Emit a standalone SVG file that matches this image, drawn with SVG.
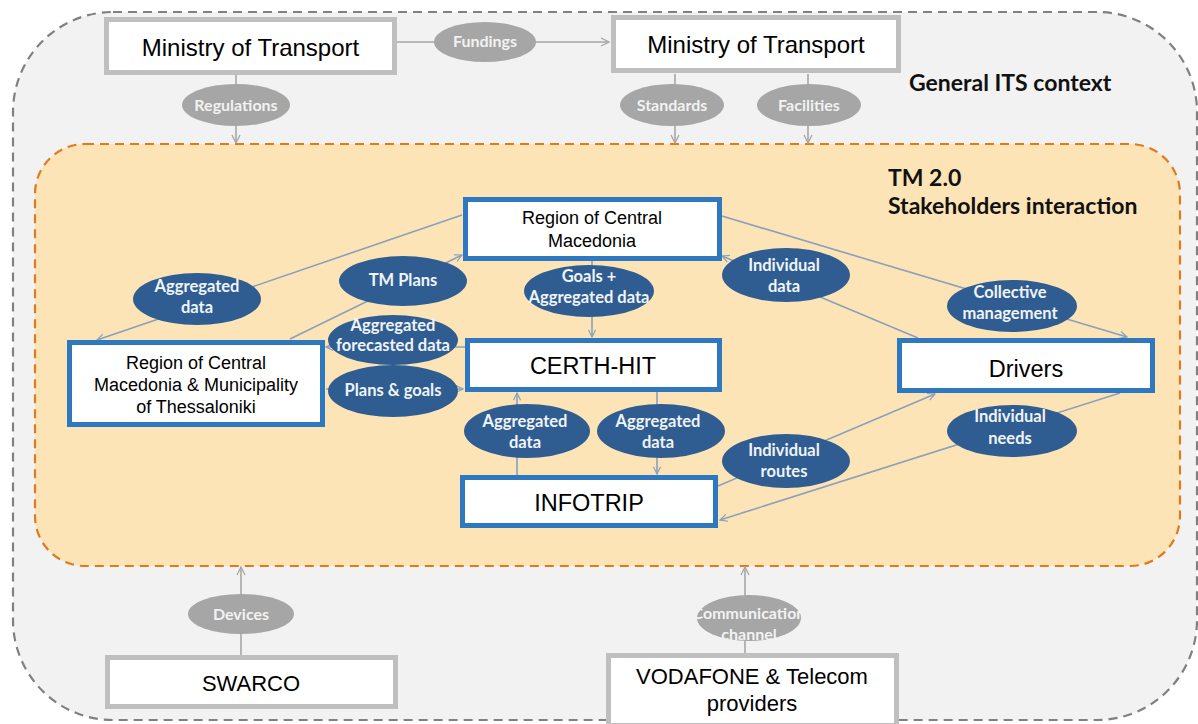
<svg xmlns="http://www.w3.org/2000/svg" width="1198" height="724" viewBox="0 0 1198 724">
<defs>
<marker id="aB" viewBox="0 0 10 10" refX="9" refY="5" markerWidth="9" markerHeight="9" markerUnits="userSpaceOnUse" orient="auto">
<path d="M1,1 L9,5 L1,9" fill="none" stroke="#8aa0bb" stroke-width="1.3"/>
</marker>
<marker id="aG" viewBox="0 0 10 10" refX="9" refY="5" markerWidth="10" markerHeight="10" markerUnits="userSpaceOnUse" orient="auto">
<path d="M1,1 L9,5 L1,9" fill="none" stroke="#a6a6a6" stroke-width="1.3"/>
</marker>
</defs>
<style>
.bx{fill:#ffffff;stroke:#2e78c0;stroke-width:5}
.gb{fill:#ffffff;stroke:#bfbfbf;stroke-width:5}
.be{fill:#2f5d91}
.ge{fill:#a6a6a6}
.bl{font-family:"Liberation Sans",Arial,sans-serif;fill:#000;text-anchor:middle}
.el{font-family:Lato,"Open Sans",sans-serif;font-weight:bold;font-size:16.5px;fill:#f0f4f8;text-anchor:middle}
.gl{font-family:Lato,"Open Sans",sans-serif;font-weight:bold;font-size:16px;fill:#f2f2f2;text-anchor:middle}
.hd{font-family:Lato,"Open Sans",sans-serif;font-weight:bold;font-size:23px;fill:#111}
.cb{stroke:#8aa0bb;stroke-width:1.6;fill:none}
.cg{stroke:#a6a6a6;stroke-width:1.6;fill:none}
</style>
<rect width="1198" height="724" fill="#ffffff"/>
<g id="context">
<rect x="13" y="12" width="1184" height="708" rx="100" ry="100" fill="#f2f2f2" stroke="#808080" stroke-width="2.2" stroke-dasharray="9,6"/>
<text class="hd" x="909" y="91">General ITS context</text>
</g>
<g id="tm20">
<rect x="35" y="144" width="1145" height="422" rx="50" ry="50" fill="#fde4b6" stroke="#e07a1f" stroke-width="2.2" stroke-dasharray="9,6"/>
<text class="hd" x="888" y="186">TM 2.0</text>
<text class="hd" x="888" y="214">Stakeholders interaction</text>
</g>
<g id="connectors">
<line class="cg" x1="397" y1="42" x2="609" y2="42" marker-end="url(#aG)"/>
<line class="cg" x1="236" y1="75" x2="236" y2="143" marker-end="url(#aG)"/>
<line class="cg" x1="675" y1="74" x2="675" y2="143" marker-end="url(#aG)"/>
<line class="cg" x1="808" y1="74" x2="808" y2="143" marker-end="url(#aG)"/>
<line class="cg" x1="241" y1="655" x2="241" y2="567" marker-end="url(#aG)"/>
<line class="cg" x1="745" y1="653" x2="745" y2="567" marker-end="url(#aG)"/>
<line class="cb" x1="462" y1="215" x2="97" y2="340" marker-end="url(#aB)"/>
<line class="cb" x1="290" y1="339" x2="462" y2="255" marker-end="url(#aB)"/>
<line class="cb" x1="465" y1="347" x2="326" y2="347" marker-end="url(#aB)"/>
<line class="cb" x1="326" y1="389" x2="463" y2="389" marker-end="url(#aB)"/>
<line class="cb" x1="592" y1="261" x2="592" y2="337" marker-end="url(#aB)"/>
<line class="cb" x1="517" y1="475" x2="517" y2="393" marker-end="url(#aB)"/>
<line class="cb" x1="657" y1="392" x2="657" y2="474" marker-end="url(#aB)"/>
<line class="cb" x1="918" y1="338" x2="722" y2="256" marker-end="url(#aB)"/>
<line class="cb" x1="722" y1="216" x2="1127" y2="337" marker-end="url(#aB)"/>
<line class="cb" x1="718" y1="486" x2="935" y2="394" marker-end="url(#aB)"/>
<line class="cb" x1="1120" y1="393" x2="720" y2="520" marker-end="url(#aB)"/>
</g>
<g id="mot1">
<rect class="gb" x="106.5" y="19.5" width="288" height="53"/>
<text class="bl" x="250.5" y="56" font-size="24">Ministry of Transport</text>
</g>
<g id="mot2">
<rect class="gb" x="613.5" y="17.5" width="285" height="53"/>
<text class="bl" x="756" y="53" font-size="24">Ministry of Transport</text>
</g>
<g id="fundings"><ellipse class="ge" cx="485" cy="42" rx="51" ry="20"/><text class="gl" x="485" y="47">Fundings</text></g>
<g id="regulations"><ellipse class="ge" cx="236" cy="105" rx="54" ry="21"/><text class="gl" x="236" y="111">Regulations</text></g>
<g id="standards"><ellipse class="ge" cx="672" cy="105" rx="52" ry="21"/><text class="gl" x="672" y="111">Standards</text></g>
<g id="facilities"><ellipse class="ge" cx="809" cy="105" rx="52" ry="21"/><text class="gl" x="809" y="111">Facilities</text></g>
<g id="swarco">
<rect class="gb" x="107.5" y="657.5" width="288" height="49"/>
<text class="bl" x="251" y="691" font-size="22">SWARCO</text>
</g>
<g id="vodafone">
<rect class="gb" x="608.5" y="655.5" width="288" height="70"/>
<text class="bl" x="752" y="684" font-size="22">VODAFONE &amp; Telecom</text>
<text class="bl" x="752" y="711" font-size="22">providers</text>
</g>
<g id="devices"><ellipse class="ge" cx="241" cy="614" rx="53" ry="20"/><text class="gl" x="241" y="620">Devices</text></g>
<g id="comm"><ellipse class="ge" cx="749" cy="618" rx="52" ry="23"/><text class="gl" x="749" y="619" font-size="15.5">Communication</text><text class="gl" x="749" y="640" font-size="15.5">channel</text></g>
<g id="rcm">
<rect class="bx" x="465.5" y="199.5" width="254" height="59"/>
<text class="bl" x="592" y="224" font-size="18">Region of Central</text>
<text class="bl" x="592" y="247" font-size="18">Macedonia</text>
</g>
<g id="rcm-muni">
<rect class="bx" x="69.5" y="342.5" width="253" height="82"/>
<text class="bl" x="196" y="369" font-size="18">Region of Central</text>
<text class="bl" x="196" y="391" font-size="18">Macedonia &amp; Municipality</text>
<text class="bl" x="196" y="413" font-size="18">of Thessaloniki</text>
</g>
<g id="certh">
<rect class="bx" x="467.5" y="340.5" width="252" height="49"/>
<text class="bl" x="593" y="374" font-size="23.5">CERTH-HIT</text>
</g>
<g id="infotrip">
<rect class="bx" x="462.5" y="477.5" width="253" height="48"/>
<text class="bl" x="589" y="511" font-size="23.5">INFOTRIP</text>
</g>
<g id="drivers">
<rect class="bx" x="899.5" y="340.5" width="253" height="50"/>
<text class="bl" x="1026" y="377" font-size="23.5">Drivers</text>
</g>
<g id="e-agg1"><ellipse class="be" cx="197" cy="299" rx="64" ry="26"/><text class="el" x="197" y="292">Aggregated</text><text class="el" x="197" y="313">data</text></g>
<g id="e-tmplans"><ellipse class="be" cx="403" cy="281" rx="64" ry="25"/><text class="el" x="403" y="286">TM Plans</text></g>
<g id="e-forecast"><ellipse class="be" cx="393" cy="340" rx="65" ry="25"/><text class="el" x="393" y="331">Aggregated</text><text class="el" x="393" y="351">forecasted data</text></g>
<g id="e-plans"><ellipse class="be" cx="393" cy="391" rx="65" ry="26"/><text class="el" x="393" y="396">Plans &amp; goals</text></g>
<g id="e-goals"><ellipse class="be" cx="589" cy="291" rx="65" ry="26"/><text class="el" x="589" y="282">Goals +</text><text class="el" x="589" y="303">Aggregated data</text></g>
<g id="e-agg2"><ellipse class="be" cx="527" cy="431" rx="63" ry="27"/><text class="el" x="525" y="427">Aggregated</text><text class="el" x="525" y="448">data</text></g>
<g id="e-agg3"><ellipse class="be" cx="661" cy="431" rx="64" ry="27"/><text class="el" x="658" y="427">Aggregated</text><text class="el" x="658" y="448">data</text></g>
<g id="e-inddata"><ellipse class="be" cx="786" cy="275" rx="64" ry="27"/><text class="el" x="784" y="271">Individual</text><text class="el" x="784" y="292">data</text></g>
<g id="e-collective"><ellipse class="be" cx="1012" cy="306" rx="65" ry="26"/><text class="el" x="1010" y="298">Collective</text><text class="el" x="1010" y="319">management</text></g>
<g id="e-routes"><ellipse class="be" cx="786" cy="461" rx="64" ry="27"/><text class="el" x="784" y="456">Individual</text><text class="el" x="784" y="477">routes</text></g>
<g id="e-needs"><ellipse class="be" cx="1012" cy="431" rx="65" ry="26"/><text class="el" x="1010" y="422">Individual</text><text class="el" x="1010" y="444">needs</text></g>
</svg>
